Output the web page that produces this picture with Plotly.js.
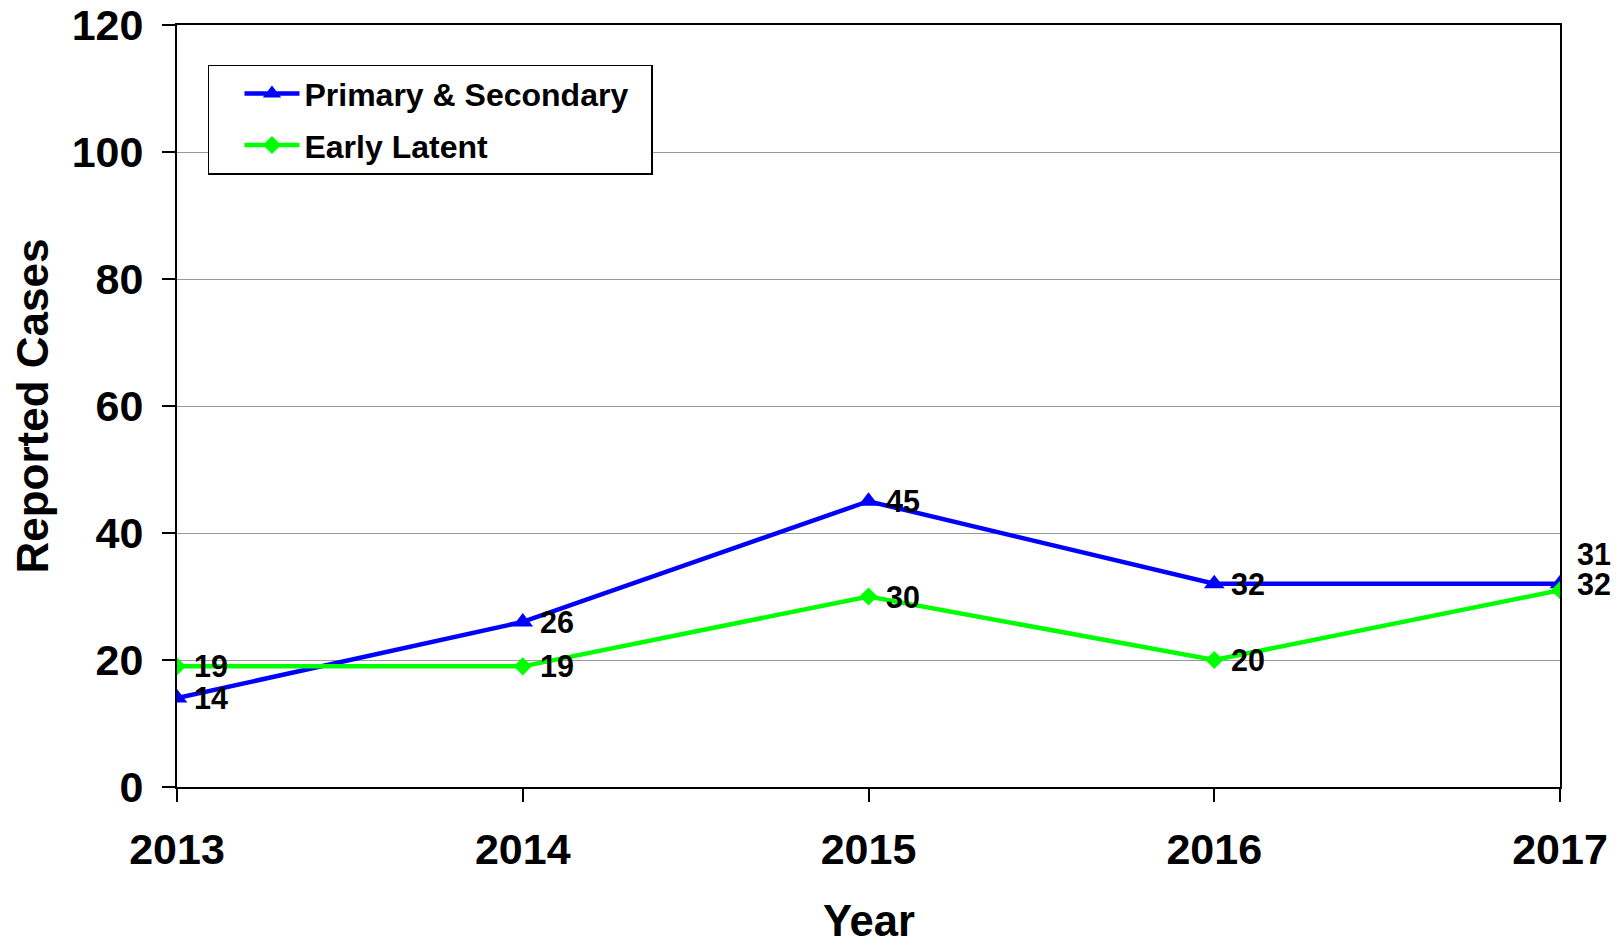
<!DOCTYPE html>
<html>
<head>
<meta charset="utf-8">
<script src="https://cdn.plot.ly/plotly-3.0.1.min.js"></script>
<style>html,body{margin:0;padding:0;background:#fff;}#chart{width:1623px;height:947px;}</style>
</head>
<body>
<div id="chart"></div>
<script>
const years = [2013, 2014, 2015, 2016, 2017];
const primarySecondary = [14, 26, 45, 32, 32];
const earlyLatent = [19, 19, 30, 20, 31];
const primaryLabels = ["14", "26", "45", "32", "32"];
const earlyLabels = ["19", "19", "30", "20", "31"];
const yTicks = [0, 20, 40, 60, 80, 100, 120];
const xTitle = "Year";
const yTitle = "Reported Cases";

const FONT = "Liberation Sans, Arial, sans-serif";
const PAD = "\u00A0\u00A0";

const traces = [
  {
    x: years, y: primarySecondary, name: "Primary & Secondary" + PAD, type: "scatter", mode: "lines+markers",
    line: {color: "#0000FF", width: 4.5},
    marker: {symbol: "triangle-up", size: 18, color: "#0000FF"},
    legendgroup: "a"
  },
  {
    x: years, y: earlyLatent, name: "Early Latent", type: "scatter", mode: "lines+markers",
    line: {color: "#00FF00", width: 4.5},
    marker: {symbol: "diamond", size: 14, color: "#00FF00"},
    legendgroup: "b"
  }
];

const annotations = [];
years.forEach((yr, i) => {
  annotations.push({x: yr, y: primarySecondary[i], text: primaryLabels[i], showarrow: false,
    xanchor: "left", yanchor: "middle", xshift: 15, yshift: 0,
    font: {family: FONT, size: 30.5, color: "#000", weight: "bold"}});
  const last = i === years.length - 1;
  annotations.push({x: yr, y: earlyLatent[i], text: earlyLabels[i], showarrow: false,
    xanchor: "left", yanchor: "middle", xshift: 15, yshift: last ? 36 : 0,
    font: {family: FONT, size: 30.5, color: "#000", weight: "bold"}});
});
annotations.push({xref: "paper", yref: "paper", x: 0.5, y: -0.176, text: xTitle, showarrow: false,
  xanchor: "center", yanchor: "middle",
  font: {family: FONT, size: 43.5, color: "#000", weight: "bold"}});

const layout = {
  width: 1623, height: 947,
  paper_bgcolor: "#fff", plot_bgcolor: "#fff",
  margin: {l: 177, r: 63, t: 25, b: 160},
  font: {family: FONT, color: "#000", weight: "bold"},
  showlegend: true,
  legend: {
    x: 0.0224, y: 0.948, xanchor: "left", yanchor: "top",
    bordercolor: "#000", borderwidth: 1.5, bgcolor: "#fff",
    font: {family: FONT, size: 32, color: "#000", weight: "bold"},
    traceorder: "grouped", tracegroupgap: 7, itemwidth: 55, indentation: 30
  },
  xaxis: {
    range: [2013, 2017], tickmode: "array", tickvals: years, ticktext: years.map(String),
    showgrid: false, zeroline: false,
    showline: true, linecolor: "#000", linewidth: 2, mirror: true,
    ticks: "outside", ticklen: 13, tickwidth: 2, tickcolor: "#000",
    tickfont: {family: FONT, size: 43, color: "#000", weight: "bold"},
    ticklabelstandoff: 10
  },
  yaxis: {
    range: [0, 120], tickmode: "array", tickvals: yTicks, ticktext: yTicks.map(String),
    showgrid: true, gridcolor: "#999", gridwidth: 1, zeroline: false,
    showline: true, linecolor: "#000", linewidth: 2, mirror: true,
    ticks: "outside", ticklen: 13, tickwidth: 2, tickcolor: "#000",
    tickfont: {family: FONT, size: 43, color: "#000", weight: "bold"},
    ticklabelstandoff: 10,
    title: {text: yTitle, font: {family: FONT, size: 44, color: "#000", weight: "bold"}, standoff: 9}
  },
  annotations: annotations
};

Plotly.newPlot("chart", traces, layout, {displayModeBar: false, staticPlot: true});
</script>
</body>
</html>
